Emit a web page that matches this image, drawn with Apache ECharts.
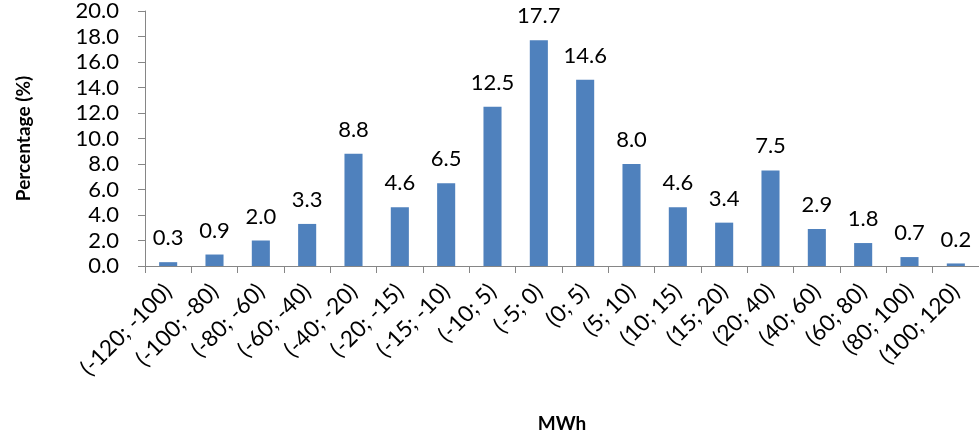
<!DOCTYPE html>
<html><head><meta charset="utf-8">
<script src="https://cdn.jsdelivr.net/npm/echarts@6/dist/echarts.min.js"></script>
<style>html,body{margin:0;padding:0;background:#fff}#c{width:979px;height:438px}</style>
</head><body><div id="c"></div>
<script>
const categories = ["(-120; -100)","(-100; -80)","(-80; -60)","(-60; -40)","(-40; -20)","(-20; -15)","(-15; -10)","(-10; 5)","(-5; 0)","(0; 5)","(5; 10)","(10; 15)","(15; 20)","(20; 40)","(40; 60)","(60; 80)","(80; 100)","(100; 120)"];
const percentages = [0.3,0.9,2.0,3.3,8.8,4.6,6.5,12.5,17.7,14.6,8.0,4.6,3.4,7.5,2.9,1.8,0.7,0.2];
const yMin = 0, yMax = 20, yStep = 2;
const font = "Lato, 'Open Sans', sans-serif";
const chart = echarts.init(document.getElementById('c'));
chart.setOption({
  animation:false,
  grid:{left:145,right:0,top:10,bottom:168,containLabel:false},
  xAxis:{type:'category',data:categories,
    name:'MWh',nameLocation:'middle',nameGap:148,
    nameTextStyle:{fontFamily:font,fontWeight:'bold',fontSize:19,color:'#000'},
    axisLine:{lineStyle:{color:'#868686',width:1}},
    axisTick:{show:true,length:7,lineStyle:{color:'#868686'}},
    axisLabel:{rotate:45,interval:0,margin:22,fontFamily:font,fontSize:22.5,color:'#000'}},
  yAxis:{type:'value',min:yMin,max:yMax,interval:yStep,
    name:'Percentage (%)',nameLocation:'middle',nameGap:112,
    nameTextStyle:{fontFamily:font,fontWeight:'bold',fontSize:19,color:'#000'},
    axisLine:{show:true,lineStyle:{color:'#868686'}},
    axisTick:{show:true,length:7,lineStyle:{color:'#868686'}},
    splitLine:{show:false},
    axisLabel:{margin:26,fontFamily:font,fontSize:22,color:'#000',formatter:v=>v.toFixed(1)}},
  series:[{type:'bar',data:percentages,barWidth:'39%',
    itemStyle:{color:'#4F81BD'},
    label:{show:true,position:'top',distance:13,fontFamily:font,fontSize:22,color:'#000',formatter:p=>p.value.toFixed(1)}}]
});
</script></body></html>
